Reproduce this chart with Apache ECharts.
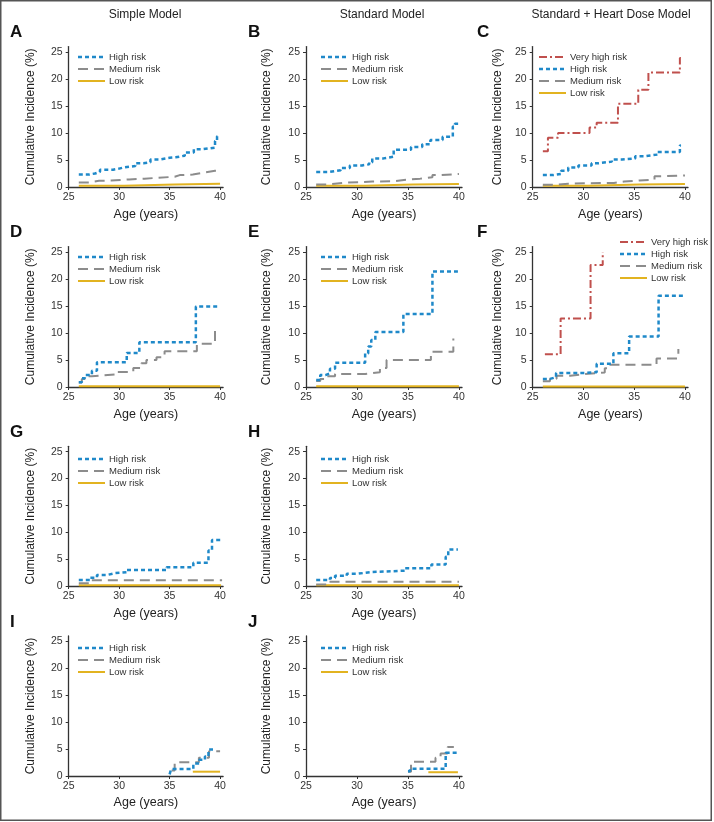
<!DOCTYPE html>
<html>
<head>
<meta charset="utf-8">
<script src="https://cdn.jsdelivr.net/npm/echarts@6/dist/echarts.min.js"></script>
<style>
html,body{margin:0;padding:0;background:#fff;}
#chart{width:714px;height:822px;}
</style>
</head>
<body>
<div id="chart"></div>
<script>
// ---- Data: [age (years), cumulative incidence (%)] ----
const columnTitles = ['Simple Model', 'Standard Model', 'Standard + Heart Dose Model'];
const xTicks = [25, 30, 35, 40];
const yTicks = [0, 5, 10, 15, 20, 25];

// Panel A - Simple Model
const aHigh = [[26.0,2.3],[27.0,2.5],[27.6,2.8],[28.1,3.2],[29.4,3.4],[30.0,3.6],[30.4,3.9],[31.6,4.4],[32.4,4.6],[33.1,5.1],[34.0,5.4],[35.0,5.5],[35.6,5.8],[36.5,6.4],[37.4,7.0],[38.3,7.3],[39.5,8.5],[39.7,9.4],[39.8,9.4]];
const aMed  = [[26.0,0.85],[27.0,1.15],[28.0,1.2],[29.2,1.4],[31.0,1.55],[32.5,1.7],[33.8,1.9],[35.5,2.2],[36.0,2.3],[37.3,2.65],[38.4,3.0],[39.5,3.1],[40.0,3.1]];
const aLow  = [[26.0,0.25],[30.5,0.45],[35.5,0.6],[40.0,0.6]];
// Panel B - Standard Model
const bHigh = [[26.0,2.8],[27.3,3.1],[28.4,3.5],[29.3,4.0],[30.5,4.2],[31.2,4.6],[31.5,5.3],[32.6,5.6],[33.6,6.9],[35.3,7.4],[36.4,7.9],[37.2,8.7],[38.4,9.3],[39.4,11.2],[39.6,11.7],[40.0,11.7]];
const bMed  = [[26.0,0.45],[27.0,0.8],[29.0,1.0],[31.5,1.05],[33.5,1.3],[34.6,1.55],[36.2,1.8],[37.4,2.2],[38.2,2.4],[40.0,2.4]];
const bLow  = [[26.0,0.25],[30.8,0.45],[35.5,0.55],[40.0,0.55]];
// Panel C - Standard + Heart Dose Model
const cVery = [[26.0,6.6],[26.5,9.1],[27.5,10.0],[30.6,11.0],[31.3,11.9],[33.4,15.4],[35.4,18.0],[36.4,21.2],[39.5,23.9],[39.6,23.9]];
const cHigh = [[26.0,2.2],[27.0,2.4],[27.8,3.0],[28.5,3.6],[29.5,4.0],[30.8,4.4],[31.5,4.7],[32.8,5.1],[33.8,5.3],[35.1,5.7],[36.0,6.0],[37.3,6.5],[39.5,7.7],[39.6,7.7]];
const cMed  = [[26.0,0.4],[27.0,0.6],[28.5,0.7],[30.3,0.75],[33.0,1.0],[34.0,1.2],[35.5,1.35],[37.0,2.0],[37.6,2.15],[40.0,2.15]];
const cLow  = [[26.0,0.25],[30.5,0.45],[35.5,0.55],[40.0,0.55]];
// Panel D
const dHigh = [[26.0,0.9],[26.3,1.6],[26.6,2.2],[27.3,3.0],[27.8,4.6],[30.75,6.3],[32.0,8.3],[37.6,14.9],[39.8,14.9]];
const dMed  = [[26.0,0.85],[26.3,1.5],[26.9,2.0],[27.3,2.3],[29.6,2.8],[31.4,3.5],[32.2,4.4],[32.7,5.0],[33.7,5.5],[34.5,6.6],[37.7,8.0],[39.5,10.5],[40.0,10.5]];
const dLow  = [[26.0,0.15],[40.0,0.15]];
// Panel E
const eHigh = [[26.0,1.3],[26.4,2.2],[26.9,2.5],[27.35,3.4],[27.85,4.5],[30.8,6.2],[31.1,7.5],[31.4,8.7],[31.8,10.2],[34.55,13.5],[37.4,21.4],[39.9,21.4]];
const eMed  = [[26.0,1.1],[26.4,1.5],[26.9,2.0],[27.85,2.4],[30.8,2.75],[32.25,3.5],[32.9,5.0],[37.25,6.55],[39.45,9.0],[39.5,9.0]];
const eLow  = [[26.0,0.15],[40.0,0.15]];
// Panel F
const fVery = [[26.2,6.05],[27.75,12.7],[30.7,22.6],[31.9,25.0]];
const fHigh = [[26.0,1.5],[26.7,1.8],[27.3,2.6],[30.15,2.75],[31.3,4.3],[32.95,6.25],[34.5,9.35],[37.4,16.9],[40.0,16.9]];
const fMed  = [[26.0,1.05],[26.7,1.55],[27.35,2.1],[28.7,2.4],[30.15,2.7],[32.1,3.45],[32.45,4.1],[37.2,5.3],[39.35,7.05],[39.4,7.05]];
const fLow  = [[26.0,0.1],[40.0,0.1]];
// Panel G
const gHigh = [[26.0,1.1],[27.1,1.55],[27.8,2.05],[28.8,2.4],[29.6,2.55],[30.75,3.0],[34.7,3.5],[37.35,4.35],[38.85,6.6],[39.2,8.55],[40.2,8.55]];
const gMed  = [[26.0,0.5],[27.0,1.05],[40.2,1.05]];
const gLow  = [[26.0,0.15],[40.1,0.15]];
// Panel H
const hHigh = [[26.0,1.1],[27.35,1.5],[27.85,1.9],[29.0,2.3],[30.15,2.6],[31.45,2.85],[34.7,3.3],[37.3,4.0],[38.7,5.45],[38.95,6.8],[39.9,6.8]];
const hMed  = [[26.0,0.3],[27.2,0.8],[40.0,0.8]];
const hLow  = [[26.0,0.15],[40.0,0.15]];
// Panel I
const iHigh = [[35.0,0.3],[35.15,1.3],[37.35,2.3],[37.95,3.0],[38.5,3.6],[38.85,4.9],[39.3,4.9]];
const iMed  = [[35.2,1.0],[35.5,2.55],[37.9,3.4],[38.9,4.6],[40.0,4.6]];
const iLow  = [[37.3,0.8],[40.0,0.8]];
// Panel J
const jHigh = [[35.0,0.9],[35.2,1.35],[38.7,4.3],[39.9,4.3]];
const jMed  = [[35.0,0.8],[35.3,2.65],[37.7,3.4],[38.2,4.2],[38.9,5.4],[39.5,5.4]];
const jLow  = [[37.0,0.7],[39.9,0.7]];

// ---- Layout / styling ----
const FONT = 'Liberation Sans, Arial, Helvetica, sans-serif';
const rowTop = [46.6, 246.6, 446.3, 636];
const rowH = [140.4, 140.4, 139.7, 140];
const colLeft = [68.7, 306, 532.7];
const colW = [154.4, 156, 155.3];
const yNameGap = [32, 33, 29];
const xNameGap = [21, 21, 21, 20];

const lineStyles = {
  'Very high risk': {color:'#c0504d', type:[8,3,2,3], width:2},
  'High risk':      {color:'#1f89c9', type:[4,3], width:2.5},
  'Medium risk':    {color:'#8c8c8c', type:[10,6], width:2},
  'Low risk':       {color:'#e2b320', type:'solid', width:2}
};

const panels = [
  {letter:'A', row:0, col:0, data:{'Low risk':aLow,'Medium risk':aMed,'High risk':aHigh}, legend:[78,52]},
  {letter:'B', row:0, col:1, data:{'Low risk':bLow,'Medium risk':bMed,'High risk':bHigh}, legend:[321,52]},
  {letter:'C', row:0, col:2, data:{'Low risk':cLow,'Medium risk':cMed,'High risk':cHigh,'Very high risk':cVery}, legend:[539,52]},
  {letter:'D', row:1, col:0, data:{'Low risk':dLow,'Medium risk':dMed,'High risk':dHigh}, legend:[78,252]},
  {letter:'E', row:1, col:1, data:{'Low risk':eLow,'Medium risk':eMed,'High risk':eHigh}, legend:[321,252]},
  {letter:'F', row:1, col:2, data:{'Low risk':fLow,'Medium risk':fMed,'High risk':fHigh,'Very high risk':fVery}, legend:[620,237]},
  {letter:'G', row:2, col:0, data:{'Low risk':gLow,'Medium risk':gMed,'High risk':gHigh}, legend:[78,454]},
  {letter:'H', row:2, col:1, data:{'Low risk':hLow,'Medium risk':hMed,'High risk':hHigh}, legend:[321,454]},
  {letter:'I', row:3, col:0, data:{'Low risk':iLow,'Medium risk':iMed,'High risk':iHigh}, legend:[78,643]},
  {letter:'J', row:3, col:1, data:{'Low risk':jLow,'Medium risk':jMed,'High risk':jHigh}, legend:[321,643]}
];
const letterPos = {A:[10,24],B:[248,24],C:[477,24],D:[10,224],E:[248,224],F:[477,224],G:[10,424],H:[248,424],I:[10,614],J:[248,614]};

const grid = [], xAxis = [], yAxis = [], series = [], legend = [], graphic = [];
const axisColor = '#333';
const LEG_W = 27, LEG_H = 10, LEG_GAP = 2;

panels.forEach((p, i) => {
  grid.push({left: colLeft[p.col], top: rowTop[p.row], width: colW[p.col], height: rowH[p.row], containLabel:false});
  xAxis.push({
    gridIndex:i, type:'value', min:25, max:40.3,
    axisLine:{onZero:false, lineStyle:{color:axisColor, width:1.3}},
    axisTick:{show:true, length:3, customValues:xTicks, lineStyle:{color:axisColor, width:1}},
    axisLabel:{customValues:xTicks, fontSize:10.5, color:'#333', margin:5, fontFamily:FONT},
    splitLine:{show:false},
    name:'Age (years)', nameLocation:'middle', nameGap:xNameGap[p.row],
    nameTextStyle:{fontSize:12.5, color:'#222', fontFamily:FONT}
  });
  yAxis.push({
    gridIndex:i, type:'value', min:0, max:26,
    axisLine:{show:true, onZero:false, lineStyle:{color:axisColor, width:1.3}},
    axisTick:{show:true, length:3, customValues:yTicks, lineStyle:{color:axisColor, width:1}},
    axisLabel:{customValues:yTicks, fontSize:10.5, color:'#333', margin:6, fontFamily:FONT},
    splitLine:{show:false},
    name:'Cumulative Incidence (%)', nameLocation:'middle', nameGap:yNameGap[p.col],
    nameTextStyle:{fontSize:12, color:'#222', fontFamily:FONT}
  });
  const names = Object.keys(p.data);
  names.forEach(n => {
    const ls = lineStyles[n];
    series.push({
      name:n, type:'line', step:'end', xAxisIndex:i, yAxisIndex:i,
      symbol:'none', showSymbol:false, data:p.data[n], silent:true,
      lineStyle:{color:ls.color, type:ls.type, width:ls.width},
      itemStyle:{color:ls.color}
    });
  });
  const legNames = names.slice().reverse();
  legend.push({
    orient:'vertical', left:p.legend[0], top:p.legend[1],
    data:legNames.map(n => ({name:n, itemStyle:{opacity:0}, lineStyle:{opacity:0}})),
    selectedMode:false,
    itemWidth:LEG_W, itemHeight:LEG_H, itemGap:LEG_GAP, padding:0,
    textStyle:{fontSize:9.5, color:'#333', fontFamily:FONT, padding:[0,0,0,-2]}
  });
  // legend keys (line samples) drawn alongside the legend entries
  legNames.forEach((n, k) => {
    const ls = lineStyles[n];
    const cy = p.legend[1] + k * (LEG_H + LEG_GAP) + LEG_H / 2;
    graphic.push({
      type:'line', silent:true,
      shape:{x1:p.legend[0], y1:cy, x2:p.legend[0] + LEG_W, y2:cy},
      style:{stroke:ls.color, lineWidth:ls.width, lineDash:Array.isArray(ls.type) ? ls.type : null}
    });
  });
  const lp = letterPos[p.letter];
  graphic.push({type:'text', left:lp[0], top:lp[1], style:{text:p.letter, font:'bold 17px ' + FONT, fill:'#111'}});
});

const titleX = [145, 382, 611];
columnTitles.forEach((t, c) => {
  graphic.push({type:'text', x:titleX[c], y:15, style:{text:t, font:'12px ' + FONT, fill:'#222', align:'center', verticalAlign:'middle'}});
});
graphic.push({type:'rect', shape:{x:0.75, y:0.75, width:710.5, height:819.5}, style:{fill:'none', stroke:'#555', lineWidth:1.5}, silent:true});

const chart = echarts.init(document.getElementById('chart'), null, {renderer:'canvas'});
chart.setOption({
  animation:false,
  backgroundColor:'#fff',
  textStyle:{fontFamily:FONT},
  grid, xAxis, yAxis, series, legend, graphic
});
</script>
</body>
</html>
